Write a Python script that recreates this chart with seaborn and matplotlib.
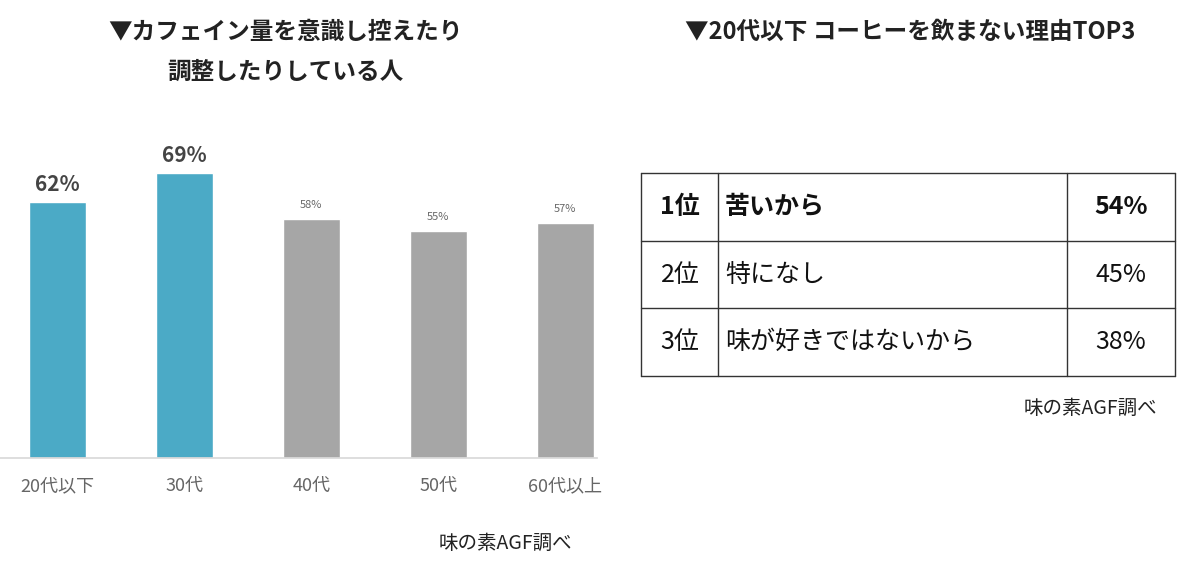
import matplotlib
matplotlib.use('Agg')
import matplotlib.pyplot as plt
import seaborn as sns
import pandas as pd

# データ
ages = ['20代以下', '30代', '40代', '50代', '60代以上']
rates = [62, 69, 58, 55, 57]
ranks = ['1位', '2位', '3位']
reasons = ['苦いから', '特になし', '味が好きではないから']
reason_pct = ['54%', '45%', '38%']

sns.set_theme(style='white')
plt.rcParams['font.family'] = ['Noto Sans CJK JP', 'DejaVu Sans']

W, H = 1200, 575
fig = plt.figure(figsize=(12, 5.75), dpi=100)

# 左: 棒グラフ
ax = fig.add_axes([0.0, 1 - 458 / H, 597 / W, 330 / H])
df = pd.DataFrame({'age': ages, 'rate': rates})
colors = ['#4BAAC6', '#4BAAC6', '#A6A6A6', '#A6A6A6', '#A6A6A6']
sns.barplot(data=df, x='age', y='rate', hue='age', palette=colors,
            width=0.45, saturation=1, legend=False, ax=ax)
ax.set_xlim(-0.45, 4.25)
ax.set_ylim(0, 80)
for i, v in enumerate(rates):
    if i < 2:
        ax.text(i, v + 1.8, f'{v}%', ha='center', va='bottom', fontsize=15,
                fontweight='bold', color='#444444')
    else:
        ax.text(i, v + 2.2, f'{v}%', ha='center', va='bottom', fontsize=8,
                color='#666666')
ax.set_yticks([])
ax.set_xlabel('')
ax.set_ylabel('')
ax.tick_params(axis='x', labelsize=13, colors='#666666', pad=14, length=0)
for s in ['left', 'right', 'top']:
    ax.spines[s].set_visible(False)
ax.spines['bottom'].set_color('#D9D9D9')

fig.text(285 / W, 1 - 32 / H, '▼カフェイン量を意識し控えたり', ha='center', va='center',
         fontsize=17, fontweight='bold', color='#222222')
fig.text(285 / W, 1 - 72 / H, '調整したりしている人', ha='center', va='center',
         fontsize=17, fontweight='bold', color='#222222')
fig.text(505 / W, 1 - 543 / H, '味の素AGF調べ', ha='center', va='center',
         fontsize=14, color='#222222')

# 右: 表
fig.text(910 / W, 1 - 32 / H, '▼20代以下 コーヒーを飲まない理由TOP3', ha='center', va='center',
         fontsize=17, fontweight='bold', color='#222222')
xs = [641, 718, 1067, 1175]
ys = [173, 241, 308, 376]
for y in ys:
    fig.add_artist(plt.Line2D([xs[0] / W, xs[-1] / W], [1 - y / H, 1 - y / H],
                              color='#333333', lw=1))
for x in xs:
    fig.add_artist(plt.Line2D([x / W, x / W], [1 - ys[0] / H, 1 - ys[-1] / H],
                              color='#333333', lw=1))
for i in range(3):
    yc = 1 - (ys[i] + ys[i + 1]) / 2 / H
    fw = 'bold' if i == 0 else 'normal'
    fig.text(680 / W, yc, ranks[i], ha='center', va='center', fontsize=18,
             fontweight=fw, color='#111111')
    fig.text(725 / W, yc, reasons[i], ha='left', va='center', fontsize=18,
             fontweight=fw, color='#111111')
    fig.text(1121 / W, yc, reason_pct[i], ha='center', va='center', fontsize=18,
             fontweight=fw, color='#111111')
fig.text(1090 / W, 1 - 408 / H, '味の素AGF調べ', ha='center', va='center',
         fontsize=14, color='#222222')

fig.savefig('out.png', dpi=100)
